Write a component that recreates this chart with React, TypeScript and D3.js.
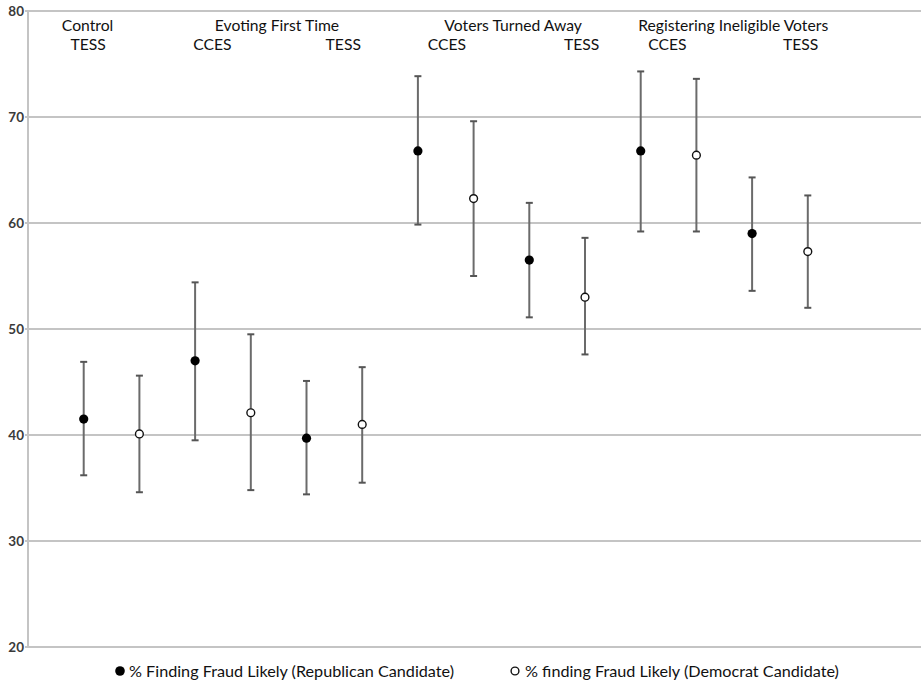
import React from "react";
import * as d3 from "d3";

// ---- data ----
const series = ["Republican", "Democrat"];
const pointLabels = [
  "Control TESS R", "Control TESS D",
  "Evoting CCES R", "Evoting CCES D",
  "Evoting TESS R", "Evoting TESS D",
  "Turned Away CCES R", "Turned Away CCES D",
  "Turned Away TESS R", "Turned Away TESS D",
  "Ineligible CCES R", "Ineligible CCES D",
  "Ineligible TESS R", "Ineligible TESS D",
];
const pointSeries = [0, 1, 0, 1, 0, 1, 0, 1, 0, 1, 0, 1, 0, 1];
const means = [41.5, 40.1, 47.0, 42.1, 39.7, 41.0, 66.8, 62.3, 56.5, 53.0, 66.8, 66.4, 59.0, 57.3];
const lows = [36.2, 34.6, 39.5, 34.8, 34.4, 35.5, 59.85, 55.0, 51.1, 47.6, 59.2, 59.2, 53.6, 52.0];
const highs = [46.9, 45.6, 54.4, 49.5, 45.1, 46.4, 73.85, 69.6, 61.9, 58.6, 74.3, 73.6, 64.3, 62.6];
const yTicks = [20, 30, 40, 50, 60, 70, 80];

// header annotations, anchored in x-slot units of the chart
const groupTitles = ["Control", "Evoting First Time", "Voters Turned Away", "Registering Ineligible Voters"];
const groupTitleSlots = [1.07, 4.47, 8.71, 12.66];
const sourceLabels = ["TESS", "CCES", "TESS", "CCES", "TESS", "CCES", "TESS"];
const sourceLabelSlots = [1.08, 3.31, 5.66, 7.52, 9.94, 11.48, 13.87];

const legendLabels = [
  "% Finding Fraud Likely (Republican Candidate)",
  "% finding Fraud Likely (Democrat Candidate)",
];

// ---- layout ----
const W = 921;
const H = 686;
const plotLeft = 28;
const plotTop = 11;
const plotBottom = 647;
const font = "Lato, 'Open Sans', sans-serif";

export default function App() {
  const x = d3.scaleLinear().domain([0, 16]).range([plotLeft, plotLeft + 55.7 * 16]);
  const y = d3.scaleLinear().domain([20, 80]).range([plotBottom, plotTop]);

  const gridColor = "#c4c4c4";
  const barColor = "#6b6b6b";

  return (
    <svg
      width={W}
      height={H}
      style={{ position: "absolute", left: 0, top: 0, display: "block", background: "#fff" }}
    >
      {/* gridlines */}
      {yTicks.map((t) => (
        <line
          key={"g" + t}
          x1={plotLeft - 3}
          x2={W}
          y1={y(t)}
          y2={y(t)}
          stroke={gridColor}
          strokeWidth={2}
        />
      ))}
      {/* y axis line */}
      <line x1={plotLeft} x2={plotLeft} y1={plotTop} y2={plotBottom} stroke={gridColor} strokeWidth={2} />
      {/* y tick labels */}
      {yTicks.map((t) => (
        <text
          key={"t" + t}
          x={plotLeft - 4}
          y={y(t)}
          dy="0.36em"
          textAnchor="end"
          fontFamily={font}
          fontWeight="bold"
          fontSize={13.5}
          fill="#3a3a3a"
        >
          {t}
        </text>
      ))}

      {/* header labels */}
      {groupTitles.map((g, i) => (
        <text
          key={"gt" + i}
          x={x(groupTitleSlots[i])}
          y={31}
          textAnchor="middle"
          fontFamily={font}
          fontSize={15.7}
          fill="#111"
        >
          {g}
        </text>
      ))}
      {sourceLabels.map((s, i) => (
        <text
          key={"sl" + i}
          x={x(sourceLabelSlots[i])}
          y={50}
          textAnchor="middle"
          fontFamily={font}
          fontSize={15.7}
          fill="#111"
        >
          {s}
        </text>
      ))}

      {/* error bars and points */}
      {means.map((m, i) => {
        const cx = x(i + 1);
        const filled = pointSeries[i] === 0;
        return (
          <g key={pointLabels[i]}>
            <line x1={cx} x2={cx} y1={y(lows[i])} y2={y(highs[i])} stroke={barColor} strokeWidth={2} />
            <line x1={cx - 3.5} x2={cx + 3.5} y1={y(lows[i])} y2={y(lows[i])} stroke="#555" strokeWidth={2} />
            <line x1={cx - 3.5} x2={cx + 3.5} y1={y(highs[i])} y2={y(highs[i])} stroke="#555" strokeWidth={2} />
            {filled ? (
              <circle cx={cx} cy={y(m)} r={4.6} fill="#000" />
            ) : (
              <circle cx={cx} cy={y(m)} r={3.9} fill="#fff" stroke="#111" strokeWidth={1.4} />
            )}
          </g>
        );
      })}

      {/* legend */}
      <g>
        <circle cx={120} cy={671} r={4.8} fill="#000" />
        <text x={129} y={677} fontFamily={font} fontSize={16.2} fill="#111">
          {legendLabels[0]}
        </text>
        <circle cx={515} cy={671} r={3.9} fill="#fff" stroke="#111" strokeWidth={1.4} />
        <text x={525} y={677} fontFamily={font} fontSize={16.2} fill="#111">
          {legendLabels[1]}
        </text>
      </g>
    </svg>
  );
}
